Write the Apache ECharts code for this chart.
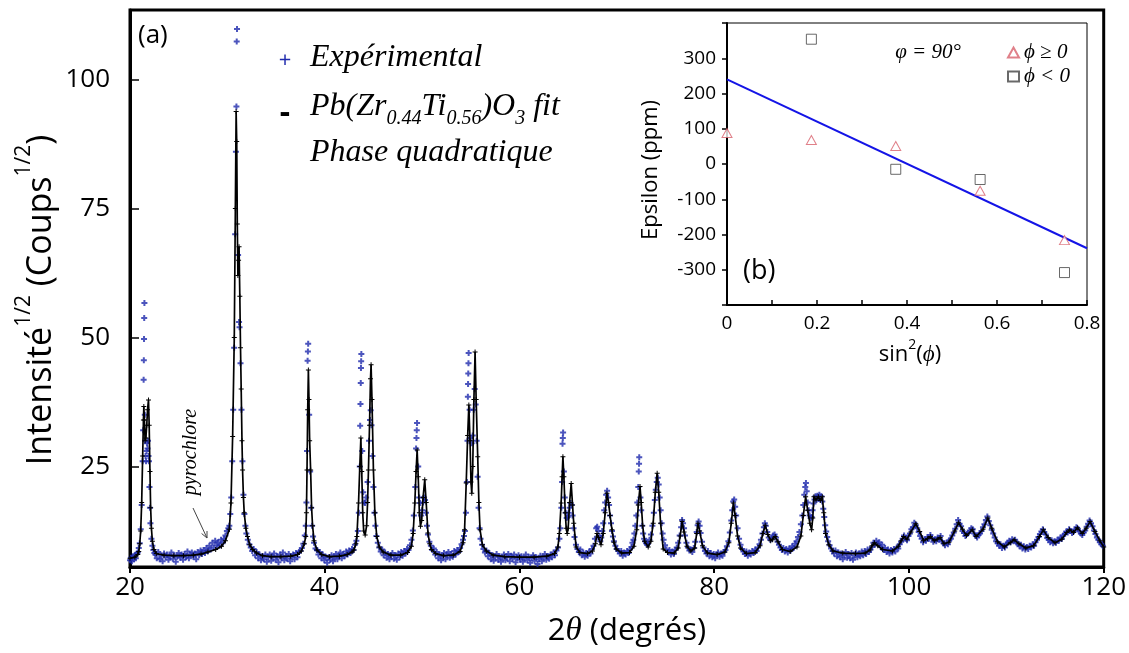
<!DOCTYPE html>
<html><head><meta charset="utf-8">
<script src="https://cdn.jsdelivr.net/npm/echarts@6/dist/echarts.min.js"></script>
<style>html,body{margin:0;padding:0;background:#fff}#c{width:1129px;height:653px}</style>
</head><body><div id="c"></div>
<script>
// ---------- data ----------
const mainXTicks = [20, 40, 60, 80, 100, 120];
const mainYTicks = [25, 50, 75, 100];
const insetXTicks = [0, 0.2, 0.4, 0.6, 0.8];
const insetYTicks = [-300, -200, -100, 0, 100, 200, 300];

// fit (black line): [2theta, sqrt intensity]
const fitProfile = [
[20.0,7.2],[20.5,7.4],[20.8,7.9],[20.9,8.5],[21.0,10],[21.1,12.5],[21.2,18],[21.3,27],[21.38,34],[21.42,36.6],[21.48,34],[21.55,30],[21.63,30.5],[21.72,33],[21.8,36],[21.9,37.9],[21.97,33],[22.05,24],[22.12,17],[22.2,13],[22.3,10.5],[22.45,8.9],[22.7,8.1],
[23.5,7.8],[24.5,7.7],[25.5,7.7],[26.5,7.8],[27.3,8.0],[28.0,8.4],[28.8,8.9],[29.4,9.5],[29.8,10.6],[30.2,12.8],[30.37,17.9],[30.54,30.8],[30.71,50],[30.82,75],[30.9,93.8],[30.96,88],[31.02,72],[31.08,62],[31.15,65],[31.2,67.6],[31.28,58],[31.35,48],[31.42,40],[31.5,30],[31.56,24.3],[31.65,19],[31.73,16],[31.9,13],[32.07,11.4],[32.3,9.8],[32.6,8.9],[33.0,8.2],[33.6,7.7],[34.5,7.5],[35.5,7.5],[36.5,7.6],[37.2,7.9],[37.6,8.6],[37.9,10],[38.05,11.4],[38.12,16],[38.18,24.3],[38.25,36],[38.32,43.7],[38.38,38],[38.45,30],[38.55,24.3],[38.65,17],[38.75,13.5],[38.9,10.6],[39.2,8.8],[39.7,7.9],[40.5,7.5],[41.5,7.6],[42.3,7.9],[42.8,8.4],[43.0,8.8],[43.2,10],[43.3,11.4],[43.47,17.9],[43.6,25],[43.71,30.5],[43.8,24],[43.9,16],[44.0,12.5],[44.15,11.7],[44.3,13.5],[44.4,18],[44.49,24.3],[44.6,33],[44.7,42],[44.76,44.7],[44.85,38],[45.0,24.3],[45.15,16],[45.34,11.4],[45.6,9.4],[46.0,8.4],[46.8,7.8],[47.8,7.8],[48.5,8.3],[48.9,9.5],[49.08,12],[49.25,17.9],[49.38,24],[49.49,28.2],[49.6,23],[49.72,16],[49.83,13.4],[49.95,14.5],[50.1,19],[50.27,22.4],[50.42,18],[50.6,12.1],[50.78,10],[50.95,8.9],[51.4,8.1],[52.2,7.7],[53.2,7.8],[53.9,8.5],[54.2,10.2],[54.36,12.7],[54.53,21.8],[54.68,31],[54.8,36.9],[54.92,30],[55.02,22],[55.1,19.8],[55.2,25],[55.32,38],[55.44,47.2],[55.55,38],[55.71,26.9],[55.83,18],[55.95,12.7],[56.2,9.8],[56.6,8.6],[57.3,7.8],[58.5,7.5],[60,7.4],[61.5,7.4],[62.8,7.6],[63.6,8.1],[63.95,9.4],[64.1,12],[64.28,17.9],[64.38,23],[64.46,26.9],[64.56,23],[64.7,16],[64.8,13],[64.9,12],[65.0,13],[65.15,18],[65.31,21.7],[65.45,17.5],[65.57,14],[65.82,9.4],[66.2,8.3],[67.0,8.1],[67.5,8.6],[67.8,10],[67.96,12],[68.12,11.2],[68.37,9.8],[68.6,12],[68.8,16],[68.98,19.8],[69.15,18],[69.3,15.5],[69.5,12.7],[69.7,10.3],[69.93,9.0],[70.5,8.2],[71.3,8.3],[71.75,9.5],[72.04,12.7],[72.2,17.5],[72.38,21.1],[72.5,18],[72.65,13.5],[72.85,10.5],[73.22,9.4],[73.5,10.5],[73.73,14],[73.95,20],[74.14,23.7],[74.3,20],[74.49,14],[74.76,9.0],[75.2,8.3],[75.9,8.2],[76.3,9.2],[76.5,11.5],[76.7,14.3],[76.9,12.3],[77.2,9.5],[77.6,8.6],[78.0,9.2],[78.2,12],[78.33,14.0],[78.5,12.5],[78.8,9.6],[79.3,8.2],[80.3,7.9],[81.1,8.4],[81.5,10.2],[81.75,14],[81.97,17.9],[82.15,15.5],[82.4,11.5],[82.7,9.2],[83.3,8.1],[84.2,8.3],[84.7,9.6],[85.0,12],[85.24,13.6],[85.5,11.8],[85.8,10.6],[86.0,10.8],[86.26,11.4],[86.55,10.4],[87.0,8.9],[87.8,8.5],[88.5,9.4],[88.9,11.5],[89.15,15.5],[89.39,19.1],[89.6,16.5],[89.82,14],[90.0,12.7],[90.12,15],[90.24,19.1],[90.45,18.5],[90.7,19.1],[90.9,18.4],[91.1,19.1],[91.25,16],[91.43,12],[91.77,9.8],[92.2,8.6],[93.2,8.2],[94.5,8.1],[95.5,8.2],[96.0,8.8],[96.2,9.6],[96.45,10.2],[96.8,9.6],[97.3,8.9],[98.3,8.6],[98.9,9.5],[99.2,10.6],[99.45,11.4],[99.8,10.9],[100.2,12.3],[100.7,13.9],[101.1,12.4],[101.5,10.6],[101.9,11.0],[102.2,11.4],[102.6,10.6],[102.9,10.9],[103.2,11.2],[103.6,10.0],[104.1,10.3],[104.7,12.5],[105.1,14.1],[105.5,12.8],[105.9,11.6],[106.5,12.7],[106.9,11.4],[107.6,12.8],[108.1,15.0],[108.5,13.0],[109.1,10.4],[109.8,9.4],[110.4,10.2],[110.8,10.8],[111.3,10.0],[112.0,9.2],[112.8,9.6],[113.4,11.4],[113.8,12.7],[114.3,11.2],[115.0,10.2],[115.7,10.9],[116.2,12.2],[116.5,12.7],[116.9,12.2],[117.3,13.1],[117.8,12.0],[118.2,13.0],[118.6,14.3],[119.1,12.4],[119.6,10.6],[120.0,9.4]
];

// experimental points (blue +): [2theta, sqrt intensity]
const expPoints = [
[20.0,6.8],[20.1,7.3],[20.2,6.6],[20.3,7.6],[20.4,7.0],[20.5,7.8],[20.6,7.2],[20.7,8.1],[20.8,8.3],[20.9,9.2],
[21.0,10.1],[21.1,12.8],[21.2,17.5],[21.3,26],[21.35,32],[21.4,41.8],[21.42,45.6],[21.44,49.7],[21.46,53.8],[21.48,56.7],[21.52,35],[21.56,30],[21.6,27],[21.65,26],[21.7,28],[21.75,29.5],[21.8,28.5],[21.85,30],[21.9,27],[21.95,26],[22.0,21],[22.05,17],[22.1,14],[22.2,11],[22.3,9.6],[22.4,8.8],[22.5,8.2],
[22.6,7.9],[22.75,7.2],[22.9,8.4],[23.05,7.0],[23.2,7.7],[23.35,6.6],[23.5,8.1],[23.65,7.4],[23.8,7.9],[23.95,6.9],[24.1,7.6],[24.25,8.3],[24.4,7.1],[24.55,7.8],[24.7,6.5],[24.85,7.5],[25.0,8.2],[25.15,7.3],[25.3,7.9],[25.45,6.9],[25.6,8.0],[25.75,7.4],[25.9,8.5],[26.05,7.2],[26.2,7.9],[26.35,8.3],[26.5,7.5],[26.65,8.1],[26.8,7.0],[26.95,8.4],[27.1,7.8],[27.25,8.7],[27.4,8.0],[27.55,8.8],[27.7,8.2],[27.85,9.2],[28.0,8.6],[28.15,9.6],[28.3,8.9],[28.45,10.2],[28.6,9.3],[28.75,10.6],[28.9,9.7],[29.05,10.3],[29.2,9.6],[29.35,10.8],[29.5,10.1],[29.65,11.0],[29.8,11.6],[29.95,12.5],
[30.1,13.0],[30.2,13.5],[30.3,15.8],[30.4,19],[30.5,26],[30.6,36],[30.7,48],[30.8,70],[30.88,86],[30.93,94.8],[30.96,107.4],[30.99,109.8],[31.1,66],[31.2,53],[31.25,52],[31.35,45],[31.45,36],[31.55,26],[31.65,19.5],[31.75,15.8],[31.85,13.5],[31.95,12],[32.1,10.8],[32.25,9.9],[32.4,9.3],[32.55,8.6],[32.7,9.0],[32.85,7.8],[33.0,8.4],[33.15,7.2],[33.3,7.9],[33.45,6.8],[33.6,7.6],[33.75,7.0],[33.9,7.9],[34.05,6.5],[34.2,7.4],[34.35,7.9],[34.5,6.7],[34.65,7.5],[34.8,8.1],[34.95,6.9],[35.1,7.6],[35.25,6.4],[35.4,7.9],[35.55,7.2],[35.7,8.3],[35.85,6.8],[36.0,7.7],[36.15,7.1],[36.3,8.0],[36.45,6.6],[36.6,7.5],[36.75,7.9],[36.9,7.0],[37.05,8.2],[37.2,7.4],[37.35,8.4],[37.5,8.6],[37.65,9.2],[37.8,10.0],[37.95,11.6],
[38.05,13.5],[38.12,18],[38.18,28],[38.24,45.5],[38.27,47.3],[38.3,48.8],[38.4,35],[38.5,24],[38.6,17],[38.7,13.5],[38.8,11.4],[38.9,10.2],[39.05,9.1],[39.2,8.8],[39.35,7.9],[39.5,8.4],[39.65,7.2],[39.8,7.9],[39.95,6.8],[40.1,7.5],[40.25,6.3],[40.4,7.4],[40.55,6.9],[40.7,7.8],[40.85,6.6],[41.0,7.3],[41.15,8.0],[41.3,7.0],[41.45,7.7],[41.6,8.3],[41.75,7.2],[41.9,8.0],[42.05,7.6],[42.2,8.5],[42.35,7.9],[42.5,8.7],[42.65,8.2],[42.8,9.0],[42.95,8.8],[43.1,9.8],[43.25,10.6],[43.4,12.5],[43.5,16],[43.6,25],[43.64,32.9],[43.67,37.1],[43.7,41.2],[43.72,44.1],[43.74,45.4],[43.76,46.8],[43.85,28],[43.95,20],[44.05,18],[44.15,17.9],[44.25,19],[44.4,22],[44.55,30],[44.65,34],[44.72,35.9],[44.8,33],[44.9,27],[45.0,21],[45.1,16],[45.2,13.5],[45.3,11.5],[45.45,10.2],[45.6,9.3],[45.75,8.5],[45.9,8.9],[46.05,7.8],[46.2,8.3],[46.35,7.3],[46.5,8.0],[46.65,7.0],[46.8,7.7],[46.95,8.2],[47.1,7.1],[47.25,7.8],[47.4,6.9],[47.55,8.1],[47.7,7.4],[47.85,8.4],[48.0,7.7],[48.15,8.6],[48.3,8.1],[48.45,9.0],[48.6,8.8],[48.75,9.7],[48.9,10.8],[49.05,12.6],[49.15,15.5],[49.3,21],[49.38,28.5],[49.42,30.5],[49.45,32],[49.48,33.4],[49.6,25],[49.7,19],[49.8,17.9],[49.9,15.5],[50.0,16.5],[50.1,18],[50.2,19],[50.3,18.5],[50.4,16],[50.5,13.5],[50.6,11.8],[50.75,10.4],[50.9,9.6],[51.05,8.8],[51.2,9.1],[51.35,7.9],[51.5,8.4],[51.65,7.2],[51.8,7.9],[51.95,6.8],[52.1,7.6],[52.25,8.2],[52.4,7.0],[52.55,7.8],[52.7,8.4],[52.85,7.3],[53.0,8.0],[53.15,7.5],[53.3,8.6],[53.45,7.9],[53.6,8.8],[53.75,8.4],[53.9,9.2],[54.05,9.9],[54.2,10.8],[54.3,11.5],
[54.4,12.5],[54.5,16],[54.6,22],[54.66,30],[54.7,38.5],[54.72,41],[54.74,43],[54.76,45],[54.78,47],[54.88,36],[55.0,30.5],[55.1,29.5],[55.2,31],[55.3,36],[55.4,40],[55.5,37],[55.6,30],[55.7,23],[55.8,17],[55.9,13],[56.0,11],[56.15,9.8],[56.3,9.0],[56.45,8.3],[56.6,8.7],[56.75,7.6],[56.9,8.2],[57.05,7.0],[57.2,7.8],[57.35,6.7],[57.5,7.5],[57.65,8.0],[57.8,6.9],[57.95,7.6],[58.1,6.5],[58.25,7.3],[58.4,7.9],[58.55,6.8],[58.7,7.4],[58.85,8.0],[59.0,6.6],[59.15,7.7],[59.3,7.1],[59.45,7.9],[59.6,6.4],[59.75,7.3],[59.9,7.8],[60.05,6.9],[60.2,7.6],[60.35,6.5],[60.5,7.2],[60.65,7.9],[60.8,6.8],[60.95,7.5],[61.1,6.3],[61.25,7.2],[61.4,7.8],[61.55,6.7],[61.7,7.4],[61.85,6.1],[62.0,7.0],[62.15,7.7],[62.3,6.6],[62.45,7.3],[62.6,8.0],[62.75,6.9],[62.9,7.6],[63.05,7.1],[63.2,7.9],[63.35,7.4],[63.5,8.3],[63.65,7.8],[63.8,8.7],[63.95,9.3],
[64.1,11],[64.2,13],[64.3,17],[64.38,22],[64.42,29.4],[64.45,30.5],[64.48,31.6],[64.56,24],[64.65,19],[64.75,16],[64.85,15],[64.95,15.2],[65.05,16],[65.15,17],[65.25,17.9],[65.35,17.5],[65.45,15.5],[65.55,13],[65.65,11.3],[65.8,9.8],[65.95,9.0],[66.1,8.4],[66.25,8.9],[66.4,7.8],[66.55,8.3],[66.7,7.5],[66.85,8.2],[67.0,7.7],[67.15,8.5],[67.3,8.1],[67.45,9.0],[67.6,9.6],[67.75,11],[67.88,13],[67.98,13.3],[68.1,12.5],[68.2,11.5],[68.3,10.5],[68.4,11.2],[68.5,12.5],[68.6,14],[68.7,16.5],[68.8,18],[68.9,19.5],[69.0,20.3],[69.1,19],[69.2,17.5],[69.3,15.5],[69.4,14],[69.5,12.5],[69.6,11.4],[69.7,10.5],[69.85,9.6],[70.0,9.0],[70.15,8.6],[70.3,8.1],[70.45,8.6],[70.6,7.7],[70.75,8.3],[70.9,7.9],[71.05,8.6],[71.2,8.2],[71.35,8.9],[71.5,9.4],[71.6,10.2],[71.7,10.8],[71.8,12],[71.9,13.5],[72.0,15.5],[72.1,18],[72.2,21],[72.25,24],[72.28,25.5],[72.3,26.8],[72.42,19],[72.5,16.5],[72.6,13.5],[72.7,12],[72.8,11],[72.9,10.5],[73.0,10.1],[73.1,9.8],[73.2,10.0],[73.35,10.8],[73.5,11.8],[73.65,13.5],[73.8,16],[73.9,18.5],[74.0,20.5],[74.1,22],[74.2,22.8],[74.3,21.5],[74.4,19],[74.5,16.5],[74.6,14],[74.7,12],[74.8,10.8],[74.95,9.7],[75.1,8.9],[75.25,8.4],[75.4,8.8],[75.55,7.9],[75.7,8.5],[75.85,8.0],[76.0,8.8],[76.15,9.3],[76.3,10.2],[76.45,11.6],[76.6,13.2],[76.7,14.6],[76.8,14.0],[76.9,13.0],[77.0,11.6],[77.15,10.2],[77.3,9.3],[77.45,8.7],[77.6,8.9],[77.75,8.4],[77.9,9.2],[78.05,10.4],[78.2,12.3],[78.3,13.6],[78.4,14.3],[78.5,13.5],[78.6,12.1],[78.75,10.4],[78.9,9.3],[79.05,8.6],[79.2,8.1],[79.35,8.6],[79.5,7.6],[79.65,8.2],[79.8,7.4],[79.95,8.0],[80.1,7.2],[80.25,7.9],[80.4,8.3],[80.55,7.5],[80.7,8.1],[80.85,7.7],[81.0,8.4],[81.15,8.8],[81.3,9.5],[81.45,10.5],[81.6,12.2],[81.75,14.5],[81.85,16.5],[81.95,18.2],[82.05,18.6],[82.15,17.2],[82.25,15.5],[82.4,13],[82.55,11],[82.7,9.8],[82.85,9.0],[83.0,8.5],[83.15,8.0],[83.3,8.5],[83.45,7.7],[83.6,8.3],[83.75,7.9],[83.9,8.6],[84.05,8.2],[84.2,8.9],[84.35,8.6],[84.5,9.3],[84.65,9.9],[84.8,10.8],[84.95,12.0],[85.1,13.2],[85.2,14.0],[85.3,13.5],[85.45,12.3],[85.6,11.2],[85.75,10.8],[85.9,11.0],[86.05,11.6],[86.2,11.8],[86.35,11.2],[86.5,10.4],[86.65,9.8],[86.8,9.3],[86.95,8.8],[87.1,9.2],[87.25,8.5],[87.4,9.0],[87.55,8.3],[87.7,9.1],[87.85,8.7],[88.0,9.5],[88.15,9.2],[88.3,10.0],[88.45,10.5],[88.6,11.3],[88.75,12.3],[88.9,13.8],[89.05,15.5],[89.15,17.5],[89.25,19.5],[89.35,21.0],[89.42,21.8],[89.5,20.2],[89.6,18],[89.7,16.5],[89.8,15.5],[89.9,15.0],[90.0,15.2],[90.1,16.5],[90.2,17.8],[90.3,18.6],[90.4,19.2],[90.5,18.5],[90.6,19.3],[90.7,18.7],[90.8,19.5],[90.9,18.8],[91.0,19.2],[91.1,18.2],[91.2,16.8],[91.3,15.2],[91.4,13.6],[91.5,12.4],[91.6,11.3],[91.7,10.5],[91.85,9.7],[92.0,9.1],[92.15,8.6],[92.3,8.1],[92.45,8.7],[92.6,7.6],[92.75,8.3],[92.9,7.4],[93.05,8.1],[93.2,7.0],[93.35,7.8],[93.5,8.4],[93.65,7.3],[93.8,8.0],[93.95,7.2],[94.1,8.2],[94.25,6.9],[94.4,7.7],[94.55,8.3],[94.7,7.4],[94.85,8.1],[95.0,7.6],[95.15,8.5],[95.3,7.8],[95.45,8.6],[95.6,8.0],[95.75,8.9],[95.9,8.4],
[96.05,8.9],[96.2,9.4],[96.35,10.2],[96.5,9.8],[96.65,10.6],[96.8,10.0],[96.95,10.3],[97.1,9.4],[97.25,9.8],[97.4,8.8],[97.55,9.2],[97.7,8.4],[97.85,8.9],[98.0,8.1],[98.15,8.8],[98.3,8.3],[98.45,9.0],[98.6,8.5],[98.75,9.3],[98.9,9.1],[99.05,9.9],[99.2,10.4],[99.35,11.0],[99.5,11.6],[99.65,11.0],[99.8,10.7],[99.95,11.5],[100.1,12.0],[100.25,12.8],[100.4,13.2],[100.55,14.1],[100.7,13.6],[100.85,13.0],[101.0,12.3],[101.15,11.5],[101.3,11.0],[101.45,10.3],[101.6,10.9],[101.75,10.6],[101.9,11.3],[102.05,11.0],[102.2,11.7],[102.35,11.1],[102.5,10.4],[102.65,10.9],[102.8,10.5],[102.95,11.2],[103.1,10.8],[103.25,11.5],[103.4,10.5],[103.55,10.1],[103.7,9.7],[103.85,10.2],[104.0,9.9],[104.15,10.7],[104.3,11.0],[104.45,11.6],[104.6,12.2],[104.75,12.9],[104.9,13.8],[105.05,14.6],[105.2,13.9],[105.35,13.4],[105.5,12.5],[105.65,12.1],[105.8,11.5],[105.95,11.9],[106.1,12.1],[106.25,12.6],[106.4,13.0],[106.55,12.8],[106.7,12.0],[106.85,11.6],[107.0,11.2],[107.15,11.7],[107.3,12.0],[107.45,12.5],[107.6,13.2],[107.75,13.8],[107.9,14.6],[108.05,15.3],[108.2,14.4],[108.35,13.6],[108.5,12.7],[108.65,12.0],[108.8,11.2],[108.95,10.5],[109.1,10.1],[109.25,9.6],[109.4,9.9],[109.55,9.2],[109.7,9.6],[109.85,9.3],[110.0,9.9],[110.15,10.2],[110.3,10.6],[110.45,10.3],[110.6,10.9],[110.75,10.5],[110.9,10.8],[111.05,10.2],[111.2,10.0],[111.35,9.5],[111.5,9.8],[111.65,9.1],[111.8,9.5],[111.95,8.9],[112.1,9.4],[112.25,9.0],[112.4,9.6],[112.55,9.3],[112.7,9.9],[112.85,9.6],[113.0,10.3],[113.15,10.8],[113.3,11.3],[113.45,11.9],[113.6,12.4],[113.75,12.8],[113.9,12.3],[114.05,11.8],[114.2,11.1],[114.35,10.8],[114.5,10.3],[114.65,10.7],[114.8,10.1],[114.95,10.5],[115.1,10.2],[115.25,10.8],[115.4,10.6],[115.55,11.2],[115.7,11.0],[115.85,11.6],[116.0,11.9],[116.15,12.4],[116.3,12.2],[116.45,12.8],[116.6,12.5],[116.75,12.1],[116.9,12.4],[117.05,12.7],[117.2,13.2],[117.35,12.9],[117.5,12.4],[117.65,12.0],[117.8,11.7],[117.95,12.2],[118.1,12.6],[118.25,13.3],[118.4,13.9],[118.55,14.5],[118.7,14.0],[118.85,13.4],[119.0,12.6],[119.15,11.9],[119.3,11.2],[119.45,10.8],[119.6,10.3],[119.75,9.9],[119.9,9.6]
];

// inset (b): sin^2(psi) vs epsilon (ppm)
const sin2Pos = [0, 0.1875, 0.375, 0.5625, 0.75];
const epsPos = [88, 68, 51, -76, -216];
const sin2Neg = [0.1875, 0.375, 0.5625, 0.75];
const epsNeg = [354, -15, -44, -308];
const fitLineX = [0, 0.8];
const fitLineY = [240, -239];

// ---------- chart ----------
const SANS = "'Open Sans', 'Noto Sans', sans-serif";
const SERIF = "'Liberation Serif', 'DejaVu Serif', serif";
const BLUE = '#1f2aad';
const plusPath = 'path://M2,0H4V2H6V4H4V6H2V4H0V2H2Z';
const thinPlus = 'path://M2,0H3V2H5V3H3V5H2V3H0V2H2Z';

const chart = echarts.init(document.getElementById('c'), null, {renderer: 'canvas'});

function txt(x, y, text, rich, opts) {
  opts = opts || {};
  return {
    type: 'text', x: x, y: y, rotation: opts.rotation || 0, z: 100,
    style: Object.assign({
      text: text, rich: rich,
      align: opts.align || 'left', verticalAlign: 'middle',
      textAlign: opts.align || 'left', textVerticalAlign: 'middle',
      fill: opts.fill || '#000',
      font: opts.font || ('26px ' + SANS)
    }, opts.style || {})
  };
}

const option = {
  backgroundColor: '#fff',
  animation: false,
  grid: [
    {left: 130, top: 10, width: 980, height: 557, show: true, borderColor: '#000', borderWidth: 3, backgroundColor: 'transparent'},
    {left: 727, top: 23, width: 360, height: 282, show: true, borderColor: '#000', borderWidth: 1, backgroundColor: '#fff'}
  ],
  legend: {
    data: ['ϕ ≥ 0', 'ϕ < 0'],
    orient: 'vertical', left: 1002, top: 37,
    itemWidth: 11, itemHeight: 10, itemGap: 3,
    textStyle: {fontFamily: SERIF, fontStyle: 'italic', fontSize: 21, color: '#000'},
    selectedMode: false
  },
  xAxis: [
    {type: 'value', gridIndex: 0, min: 20, max: 120, interval: 20,
     axisLine: {onZero: false, lineStyle: {color: '#000', width: 3}},
     axisTick: {length: 6, lineStyle: {color: '#000', width: 2}},
     axisLabel: {fontFamily: SANS, fontSize: 26, color: '#000', margin: 8},
     splitLine: {show: false}},
    {type: 'value', gridIndex: 1, min: 0, max: 0.8, interval: 0.1,
     axisLine: {onZero: false, lineStyle: {color: '#000', width: 2}},
     axisTick: {length: 5, inside: true, lineStyle: {color: '#000', width: 1.5}},
     axisLabel: {customValues: insetXTicks, fontFamily: SANS, fontSize: 19, color: '#000', margin: 9,
       formatter: v => String(+v.toFixed(1))},
     splitLine: {show: false}}
  ],
  yAxis: [
    {type: 'value', gridIndex: 0, min: 5.5, max: 113.5,
     axisLine: {show: true, onZero: false, lineStyle: {color: '#000', width: 3}},
     axisTick: {show: true, inside: true, length: 9, customValues: mainYTicks, lineStyle: {color: '#000', width: 1.5}},
     axisLabel: {customValues: mainYTicks, fontFamily: SANS, fontSize: 26, color: '#000', margin: 20},
     splitLine: {show: false}},
    {type: 'value', gridIndex: 1, min: -400, max: 400, interval: 100,
     axisLine: {show: true, onZero: false, lineStyle: {color: '#000', width: 2}},
     axisTick: {show: true, length: 5, lineStyle: {color: '#000', width: 1.5}},
     axisLabel: {customValues: insetYTicks, fontFamily: SANS, fontSize: 19, color: '#000', margin: 11},
     splitLine: {show: false}}
  ],
  series: [
    {name: 'Expérimental', type: 'scatter', xAxisIndex: 0, yAxisIndex: 0, data: expPoints,
     symbol: plusPath, symbolSize: 6, itemStyle: {color: BLUE}, z: 2, silent: true},
    {name: 'fit', type: 'line', xAxisIndex: 0, yAxisIndex: 0, data: fitProfile,
     showSymbol: true, symbol: thinPlus, symbolSize: 5, itemStyle: {color: '#000'},
     lineStyle: {color: '#000', width: 1.7}, z: 3, silent: true},
    {name: 'ϕ ≥ 0', type: 'scatter', xAxisIndex: 1, yAxisIndex: 1,
     data: sin2Pos.map((x, i) => [x, epsPos[i]]),
     symbol: 'triangle', symbolSize: [10, 9], itemStyle: {color: '#fff', borderColor: '#d8606c', borderWidth: 1}, z: 5},
    {name: 'ϕ < 0', type: 'scatter', xAxisIndex: 1, yAxisIndex: 1,
     data: sin2Neg.map((x, i) => [x, epsNeg[i]]),
     symbol: 'rect', symbolSize: 10, itemStyle: {color: '#fff', borderColor: '#444', borderWidth: 1}, z: 5},
    {name: 'lin', type: 'line', xAxisIndex: 1, yAxisIndex: 1,
     data: fitLineX.map((x, i) => [x, fitLineY[i]]),
     showSymbol: false, lineStyle: {color: '#1414e6', width: 2}, z: 4}
  ],
  graphic: [
    txt(138, 36, '(a)', null, {font: '26px ' + SANS}),
    txt(285, 61, '+', null, {align: 'center', fill: BLUE, font: '22px ' + SANS}),
    txt(310, 58, 'Expérimental', null, {font: 'italic 32px ' + SERIF}),
    txt(285, 114, '-', null, {align: 'center', font: 'bold 32px ' + SANS}),
    txt(310, 110, '{i|Pb(Zr}{b|0.44}{i|Ti}{b|0.56}{i|)O}{b|3}{i| fit}', {
      i: {fontFamily: SERIF, fontStyle: 'italic', fontSize: 32, lineHeight: 38, verticalAlign: 'top'},
      b: {fontFamily: SERIF, fontStyle: 'italic', fontSize: 20, lineHeight: 22, verticalAlign: 'bottom'}
    }, {}),
    txt(310, 153, 'Phase quadratique', null, {font: 'italic 32px ' + SERIF}),
    txt(191, 452, 'pyrochlore', null, {align: 'center', rotation: Math.PI / 2, font: 'italic 20px ' + SERIF}),
    {type: 'polyline', z: 100, shape: {points: [[193, 508], [207, 538]]}, style: {stroke: '#444', lineWidth: 1, fill: null}},
    {type: 'polyline', z: 100, shape: {points: [[207, 531], [207, 538], [201.6, 533.5]]}, style: {stroke: '#444', lineWidth: 1, fill: null}},
    txt(36, 300, '{a|Intensité}{s|1/2}{a| (Coups}{s|1/2}{a|)}', {
      a: {fontFamily: SANS, fontSize: 34, lineHeight: 44, verticalAlign: 'bottom'},
      s: {fontFamily: SANS, fontSize: 21, lineHeight: 24, verticalAlign: 'top'}
    }, {align: 'center', rotation: Math.PI / 2}),
    txt(627, 631, '{a|2}{t|θ}{a| (degrés)}', {
      a: {fontFamily: SANS, fontSize: 31},
      t: {fontFamily: SERIF, fontStyle: 'italic', fontSize: 33}
    }, {align: 'center'}),
    txt(928, 52, 'φ = 90°', null, {align: 'center', font: 'italic 21px ' + SERIF}),
    txt(743, 271, '(b)', null, {font: '27px ' + SANS}),
    txt(651, 170, 'Epsilon (ppm)', null, {align: 'center', rotation: Math.PI / 2, font: '22px ' + SANS}),
    txt(910, 352, '{a|sin}{s|2}{a|(}{t|ϕ}{a|)}', {
      a: {fontFamily: SANS, fontSize: 22, lineHeight: 28, verticalAlign: 'bottom'},
      s: {fontFamily: SANS, fontSize: 14, lineHeight: 16, verticalAlign: 'top'},
      t: {fontFamily: SERIF, fontStyle: 'italic', fontSize: 23, lineHeight: 28, verticalAlign: 'bottom'}
    }, {align: 'center'})
  ]
};
chart.setOption(option);
</script>
</body></html>
